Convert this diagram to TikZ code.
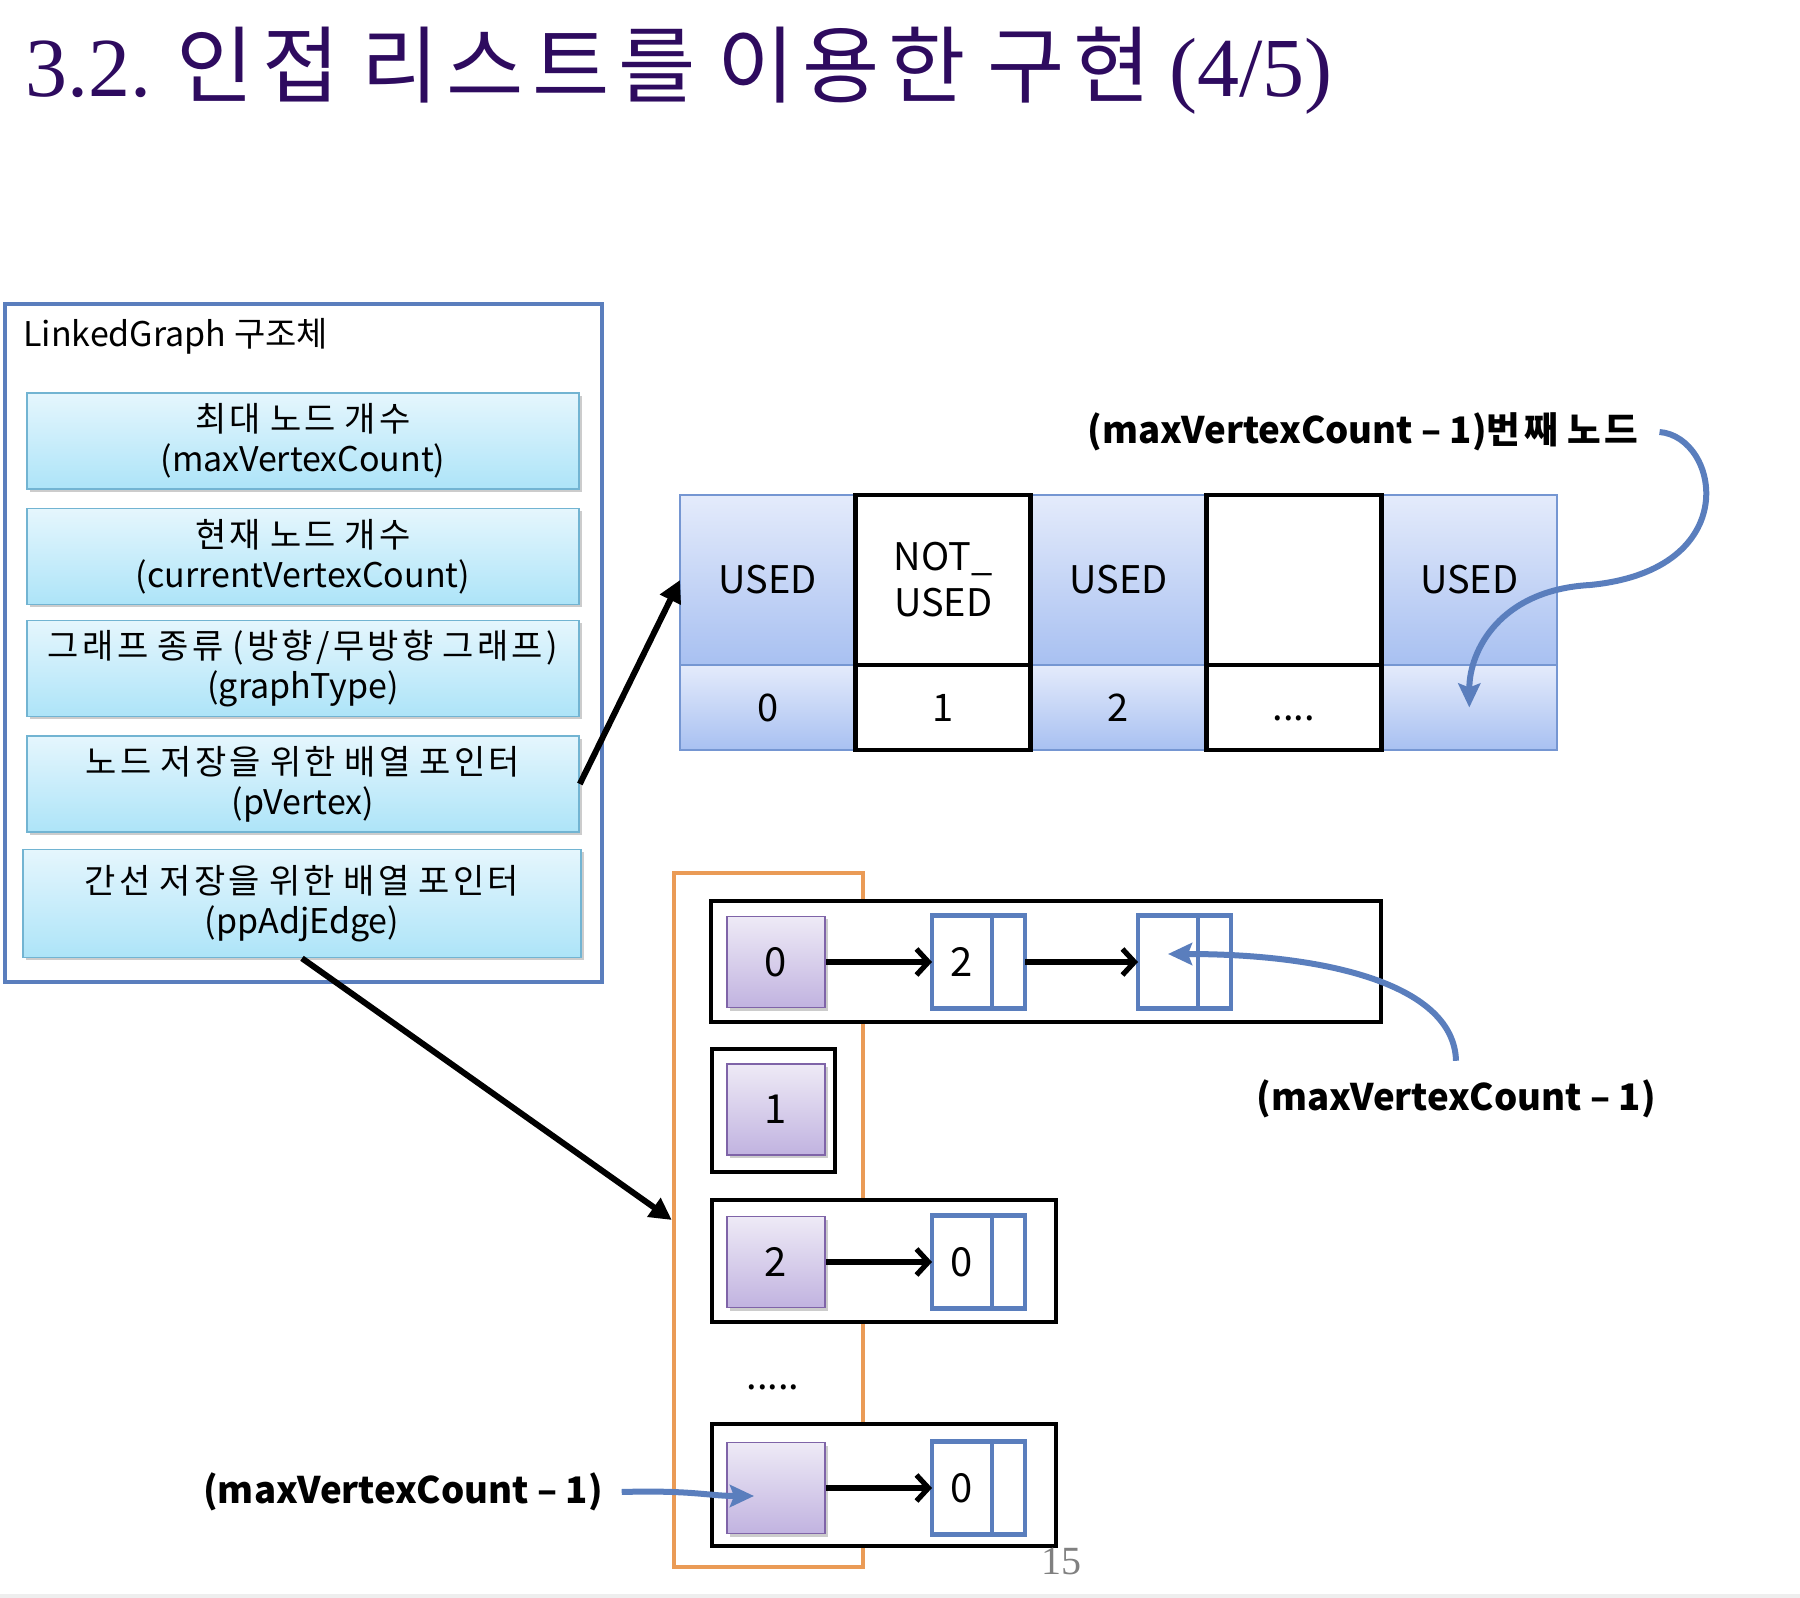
\documentclass[tikz,border=0pt]{standalone}
\usepackage{fontspec}
\setmainfont{Noto Sans CJK KR}
\newfontfamily\korfont[LetterSpace=10]{Noto Sans CJK KR}
\newfontfamily\titlekor[LetterSpace=10,WordSpace=0.8]{Noto Sans CJK KR}
\newfontfamily\slideserif{Liberation Serif}
\usetikzlibrary{positioning,arrows.meta,shadows}
\definecolor{titleink}{HTML}{2E0B5F}
\definecolor{structblue}{HTML}{5A7EBD}
\definecolor{fieldtop}{HTML}{E5F6FD}
\definecolor{fieldbot}{HTML}{ADE4F8}
\definecolor{fieldline}{HTML}{72B4D2}
\definecolor{usedtop}{HTML}{E4EBFB}
\definecolor{usedbot}{HTML}{A8C0F1}
\definecolor{usedline}{HTML}{7596D2}
\definecolor{headtop}{HTML}{EEEAF6}
\definecolor{headbot}{HTML}{C1B3E0}
\definecolor{headline}{HTML}{7F64A8}
\definecolor{slotorange}{HTML}{EA9B56}
\definecolor{pagegray}{HTML}{808080}
\definecolor{bandgray}{HTML}{EEEEEE}

\tikzset{
  softshadow/.style={drop shadow={fill=black,opacity=0.2,shadow xshift=1.5pt,shadow yshift=-1.5pt}},
  field/.style={draw=fieldline,line width=0.8pt,top color=fieldtop,bottom color=fieldbot,
    minimum width=276pt,minimum height=48pt,align=center,
    font=\fontsize{17}{20}\selectfont,softshadow},
  usedcell/.style={draw=usedline,line width=1pt,top color=usedtop,bottom color=usedbot,
    minimum width=87.7pt,align=center,outer sep=0pt,font=\fontsize{19}{23}\selectfont},
  freecell/.style={draw=black,line width=2.4pt,fill=white,
    minimum width=87.7pt,align=center,outer sep=0pt,font=\fontsize{19}{23}\selectfont},
  rowframe/.style={draw=black,line width=2.3pt,fill=white},
  headcell/.style={draw=headline,line width=0.8pt,top color=headtop,bottom color=headbot,
    minimum width=49pt,minimum height=45.5pt,font=\fontsize{20}{24}\selectfont,softshadow},
  datacell/.style={draw=structblue,line width=2.3pt,fill=white,outer sep=0pt,
    minimum width=30pt,minimum height=46.5pt,font=\fontsize{20}{24}\selectfont},
  linkcell/.style={datacell,minimum width=16.5pt},
  bigarrow/.style={line width=3pt,-{Triangle[length=11pt,width=11pt]}},
  linkarrow/.style={line width=2.6pt,-{Straight Barb[length=6pt,width=13pt]}},
  callout/.style={draw=structblue,line width=3pt,-{Stealth[length=12pt,width=11pt,inset=2pt]}},
  calloutlabel/.style={font=\fontsize{18.3}{22}\selectfont\bfseries}
}

\begin{document}
\begin{tikzpicture}[x=0.5pt,y=-0.5pt]
  \useasboundingbox (0,0) rectangle (1800,1598);
  \fill[bandgray] (0,1594) rectangle (1800,1598);

  % slide title
  \node[anchor=base west,inner sep=0pt,text=titleink,font=\fontsize{42}{50}\selectfont] (title) at (25,97)
    {{\slideserif 3.2.} {\titlekor 인접 리스트를 이용한 구현} {\slideserif (4/5)}};

  % LinkedGraph structure
  \node[draw=structblue,line width=2.2pt,minimum width=298.5pt,minimum height=339pt] (graph) at (303.5,643) {};
  \node[anchor=base west,inner sep=0pt,font=\fontsize{17}{20}\selectfont] (graphname) at (23,347) {LinkedGraph 구조체};
  \node[field] (maxcnt) at (303,441) {{\korfont 최대 노드 개수}\\(maxVertexCount)};
  \node[field] (curcnt) at (303,556.5) {{\korfont 현재 노드 개수}\\(currentVertexCount)};
  \node[field] (gtype) at (303,668.5) {{\korfont 그래프 종류 (방향/무방향 그래프)}\\(graphType)};
  \node[field] (pvertex) at (303,784) {{\korfont 노드 저장을 위한 배열 포인터}\\(pVertex)};
  \node[field,minimum width=279pt,minimum height=54pt] (ppedge) at (302,903.5) {{\korfont 간선 저장을 위한 배열 포인터}\\(ppAdjEdge)};

  % vertex array
  \node[usedcell,minimum height=85pt] (vtx0) at (767.7,580) {USED};
  \node[usedcell,minimum height=42.5pt,below=0pt of vtx0] (idx0) {0};
  \node[usedcell,minimum height=85pt] (vtx2) at (1118.5,580) {USED};
  \node[usedcell,minimum height=42.5pt,below=0pt of vtx2] (idx2) {2};
  \node[usedcell,minimum height=85pt] (vtx4) at (1469.3,580) {USED};
  \node[usedcell,minimum height=42.5pt,below=0pt of vtx4] (idx4) {};
  \node[freecell,minimum height=85pt] (vtx1) at (943.1,580) {NOT\_\\USED};
  \node[freecell,minimum height=42.5pt,below=0pt of vtx1] (idx1) {1};
  \node[freecell,minimum height=85pt] (vtx3) at (1293.9,580) {};
  \node[freecell,minimum height=42.5pt,below=0pt of vtx3] (idx3) {\vphantom{1}....};

  % edge lists
  \node[draw=slotorange,line width=2.2pt,minimum width=94.5pt,minimum height=347pt] (slots) at (768.5,1220) {};
  \node[rowframe,minimum width=335pt,minimum height=60.5pt] (row0) at (1046,961.5) {};
  \node[rowframe,minimum width=61.5pt,minimum height=61.5pt] (row1) at (773.5,1110.5) {};
  \node[rowframe,minimum width=172pt,minimum height=61pt] (row2) at (884,1261) {};
  \node[rowframe,minimum width=172pt,minimum height=61pt] (rowlast) at (884,1485) {};
  \node[font=\fontsize{19}{23}\selectfont] (slotdots) at (773,1387) {.....};

  \node[headcell] (head0) at (776,962) {0};
  \node[headcell] (head1) at (776,1109.5) {1};
  \node[headcell] (head2) at (776,1262) {2};
  \node[headcell] (headlast) at (776,1488) {};

  \node[datacell] (e0a) at (962,962) {2};
  \node[linkcell,anchor=west] (e0ap) at (e0a.east) {};
  \node[datacell] (e0b) at (1168,962) {};
  \node[linkcell,anchor=west] (e0bp) at (e0b.east) {};
  \node[datacell] (e2a) at (962,1262) {0};
  \node[linkcell,anchor=west] (e2ap) at (e2a.east) {};
  \node[datacell] (elast) at (962,1488) {0};
  \node[linkcell,anchor=west] (elastp) at (elast.east) {};

  \draw[linkarrow] (head0.east) -- (e0a.west);
  \draw[linkarrow] (e0ap.east) -- (e0b.west);
  \draw[linkarrow] (head2.east) -- (e2a.west);
  \draw[linkarrow] (headlast.east) -- (elast.west);

  % pointers out of the structure
  \draw[bigarrow] (pvertex.east) -- (vtx0.west);
  \draw[bigarrow] (ppedge.south) -- (slots.west);

  % callouts
  \node[calloutlabel] (lab1) at (1363,432) {(maxVertexCount – 1){\korfont 번째 노드}};
  \node[calloutlabel] (lab2) at (1456,1099) {(maxVertexCount – 1)};
  \node[calloutlabel] (lab3) at (403,1492) {(maxVertexCount – 1)};
  \coordinate (bend1) at (1590,585);
  \draw[callout] ([xshift=7pt]lab1.east) .. controls +(60,5) and +(155,-15) .. (bend1)
    .. controls +(-90,5) and +(0,-57) .. (idx4.center);
  \draw[callout] ([yshift=6pt]lab2.north) .. controls +(-2,-75) and +(162,0) .. ([yshift=4pt]e0b.center);
  \draw[callout] ([xshift=6pt]lab3.east) .. controls +(70,-2) and +(-45,0) .. ([xshift=-11pt,yshift=-4pt]headlast.center);

  % page number
  \node[anchor=base west,inner sep=0pt,text=pagegray,font=\slideserif\fontsize{20}{24}\selectfont] (pageno) at (1041,1574) {15};
\end{tikzpicture}
\end{document}
